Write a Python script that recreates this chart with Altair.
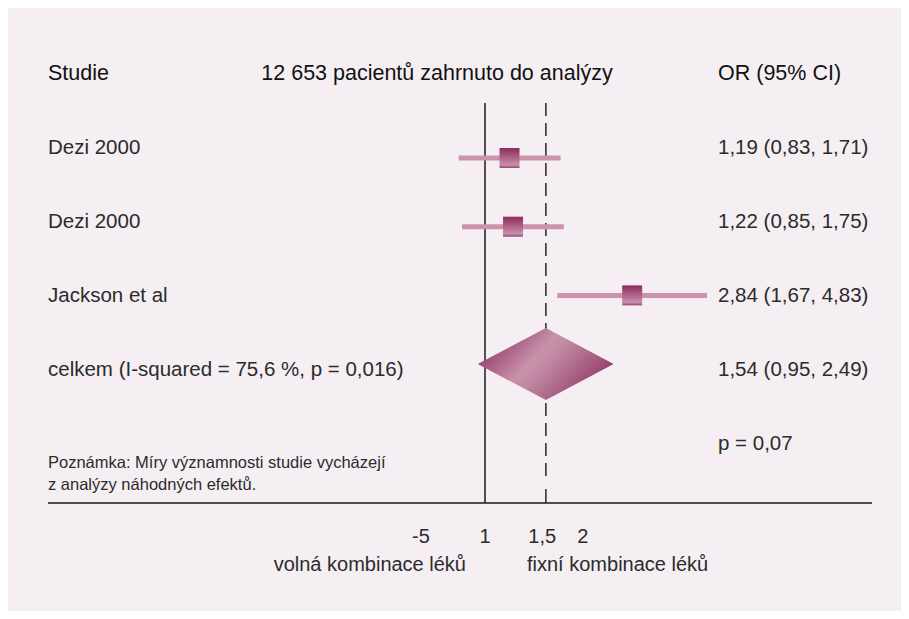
import math
import altair as alt
import pandas as pd

# ---------------- data ----------------
headers = ["Studie", "12 653 pacientů zahrnuto do analýzy", "OR (95% CI)"]
studies = ["Dezi 2000", "Dezi 2000", "Jackson et al"]
study_rows = [1, 2, 3]
study_or = [1.19, 1.22, 2.84]
study_lo = [0.83, 0.85, 1.67]
study_hi = [1.71, 1.75, 4.83]
study_txt = ["1,19 (0,83, 1,71)", "1,22 (0,85, 1,75)", "2,84 (1,67, 4,83)"]

overall_label = "celkem (I-squared = 75,6 %, p = 0,016)"
overall_row = 4
overall_or = 1.54
overall_lo = 0.95
overall_hi = 2.49
overall_txt = "1,54 (0,95, 2,49)"
p_row = 5
p_txt = "p = 0,07"

note_lines = ["Poznámka: Míry významnosti studie vycházejí", "z analýzy náhodných efektů."]
tick_values = [0.635, 1, 1.5, 2]
tick_labels = ["-5", "1", "1,5", "2"]
side_labels = ["volná kombinace léků", "fixní kombinace léků"]

# ---------------- layout / style ----------------
W, H = 893, 603
BG = "#f5eff3"
FONT = "Liberation Sans"
X0, XPX = 477, 141.0          # pixel of OR=1 and pixels per ln unit
TY0, TYPX = 66, 74.0          # text rows: pixel of row 0, pixels per row
MY1, MYPX = 150, 68.7         # mark rows: pixel of row 1, pixels per row

xscale = alt.Scale(type="log", domain=[math.exp(-X0 / XPX), math.exp((W - X0) / XPX)],
                   range=[0, W], nice=False, zero=False)
tscale = alt.Scale(domain=[-TY0 / TYPX, (H - TY0) / TYPX], range=[0, H], nice=False, zero=False)
m0 = 1 - MY1 / MYPX
mscale = alt.Scale(domain=[m0, m0 + H / MYPX], range=[0, H], nice=False, zero=False)

box_grad = alt.LinearGradient(
    gradient="linear", x1=0, x2=0, y1=0, y2=1,
    stops=[alt.GradientStop(color="#8c2c5b", offset=0),
           alt.GradientStop(color="#b26a8d", offset=0.55),
           alt.GradientStop(color="#c98fab", offset=0.85),
           alt.GradientStop(color="#9a4270", offset=1)])
dia_grad = alt.LinearGradient(
    gradient="linear", x1=0, x2=1, y1=0.25, y2=0.75,
    stops=[alt.GradientStop(color="#8e3160", offset=0),
           alt.GradientStop(color="#c892aa", offset=0.4),
           alt.GradientStop(color="#c18aa3", offset=0.5),
           alt.GradientStop(color="#8d3060", offset=1)])

df_st = pd.DataFrame({"study": studies, "row": study_rows, "or": study_or,
                      "lo": study_lo, "hi": study_hi, "txt": study_txt})

half = 36 / MYPX
df_dia = pd.DataFrame({"x": [overall_lo, overall_or, overall_hi],
                       "y": [overall_row, overall_row - half, overall_row],
                       "y2": [overall_row, overall_row + half, overall_row]})

df_left = pd.DataFrame({"row": study_rows + [overall_row], "txt": studies + [overall_label]})
df_right = pd.DataFrame({"row": study_rows + [overall_row, p_row], "txt": study_txt + [overall_txt, p_txt]})
df_ticks = pd.DataFrame({"v": tick_values, "lab": tick_labels})


def X(f):
    return alt.X(f, type="quantitative", scale=xscale, axis=None)


def TY(f):
    return alt.Y(f, type="quantitative", scale=tscale, axis=None)


def MY(f):
    return alt.Y(f, type="quantitative", scale=mscale, axis=None)


def label(t, x, y, size=20.5, align="left", color="#2b2b2b"):
    return alt.Chart(pd.DataFrame({"t": [t]})).mark_text(
        align=align, baseline="middle", font=FONT, fontSize=size, color=color
    ).encode(text="t:N", x=alt.value(x), y=alt.value(y))


base = alt.Chart(df_st)

# header texts
hdr = alt.layer(
    label(headers[0], 40, 66, 21.5, "left", "#111"),
    label(headers[1], 429, 66, 21.5, "center", "#111"),
    label(headers[2], 710, 66, 21.5, "left", "#111"),
)

left = alt.Chart(df_left).mark_text(align="left", baseline="middle", font=FONT, fontSize=20.5, color="#2b2b2b").encode(
    text="txt:N", x=alt.value(40), y=TY("row"))
right = alt.Chart(df_right).mark_text(align="left", baseline="middle", font=FONT, fontSize=20.5, color="#2b2b2b").encode(
    text="txt:N", x=alt.value(710), y=TY("row"))

notes = alt.layer(
    label(note_lines[0], 40, 455, 16.5),
    label(note_lines[1], 40, 477, 16.5),
)

# reference lines
solid = alt.Chart(pd.DataFrame({"v": [1]})).mark_rule(color="#1a1a1a", strokeWidth=1.5).encode(
    x=X("v"), y=alt.value(95), y2=alt.value(495))
dashed = alt.Chart(pd.DataFrame({"v": [overall_or]})).mark_rule(color="#333", strokeWidth=1.6, strokeDash=[13, 7]).encode(
    x=X("v"), y=alt.value(95), y2=alt.value(468))
tick = alt.Chart(pd.DataFrame({"v": [overall_or]})).mark_rule(color="#333", strokeWidth=1.6).encode(
    x=X("v"), y=alt.value(481), y2=alt.value(495))
axis_line = alt.Chart(pd.DataFrame({"v": [1]})).mark_rule(color="#1a1a1a", strokeWidth=1.6).encode(
    x=alt.value(40), x2=alt.value(864), y=alt.value(495))
tick_lab = alt.Chart(df_ticks).mark_text(baseline="middle", align="center", font=FONT, fontSize=20, color="#2b2b2b").encode(
    text="lab:N", x=X("v"), y=alt.value(529))
side_l = label(side_labels[0], 458, 557, 20, "right")
side_r = label(side_labels[1], 519, 557, 20, "left")

# CI lines, boxes, diamond (own row scale)
ci = base.mark_rule(color="#cc93ad", strokeWidth=5).encode(x=X("lo"), x2="hi:Q", y=MY("row"))
boxes = base.mark_square(size=400, fill=box_grad, opacity=1, strokeWidth=0).encode(x=X("or"), y=MY("row"))
diamond = alt.Chart(df_dia).mark_area(orient="vertical", fill=dia_grad, opacity=1).encode(
    x=X("x"), y=MY("y"), y2="y2:Q")
marks = alt.layer(ci, boxes, diamond)

texts = alt.layer(left, right)

chart = alt.layer(
    solid, dashed, tick, axis_line, marks, hdr, texts, notes, tick_lab, side_l, side_r
).resolve_scale(y="independent").properties(
    width=W, height=H, background=BG, padding=0,
    autosize=alt.AutoSizeParams(type="none"),
).configure_view(stroke=None)

chart.save("out.html", embed_options={"renderer": "svg", "actions": False})
